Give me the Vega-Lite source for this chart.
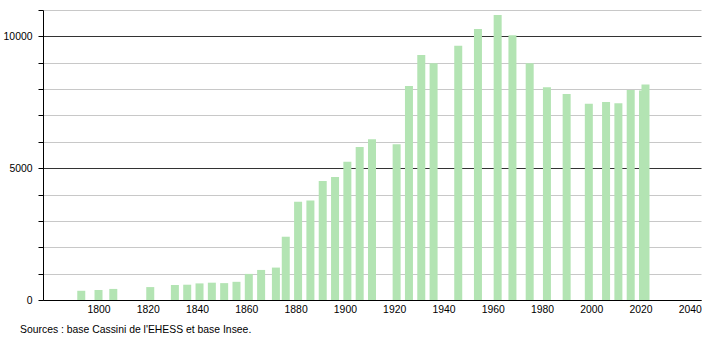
{
  "$schema": "https://vega.github.io/schema/vega-lite/v6.json",
  "width": 658,
  "height": 290,
  "autosize": {"type": "none"},
  "padding": {"left": 43, "top": 10, "right": 9, "bottom": 40},
  "background": "white",
  "config": {
    "view": {"stroke": null},
    "font": "Liberation Sans"
  },
  "title": {
    "text": "Sources : base Cassini de l'EHESS et base Insee.",
    "orient": "bottom",
    "anchor": "start",
    "frame": "group",
    "dx": -23,
    "offset": 11,
    "fontSize": 10.4,
    "fontWeight": "normal",
    "font": "Liberation Sans",
    "color": "#000000"
  },
  "data": {
    "values": [
      {"year": 1793, "population": 350},
      {"year": 1800, "population": 380},
      {"year": 1806, "population": 420},
      {"year": 1821, "population": 490},
      {"year": 1831, "population": 570},
      {"year": 1836, "population": 580},
      {"year": 1841, "population": 630},
      {"year": 1846, "population": 657},
      {"year": 1851, "population": 640},
      {"year": 1856, "population": 690},
      {"year": 1861, "population": 990},
      {"year": 1866, "population": 1140},
      {"year": 1872, "population": 1230},
      {"year": 1876, "population": 2400},
      {"year": 1881, "population": 3730},
      {"year": 1886, "population": 3770},
      {"year": 1891, "population": 4510},
      {"year": 1896, "population": 4670},
      {"year": 1901, "population": 5240},
      {"year": 1906, "population": 5800},
      {"year": 1911, "population": 6100},
      {"year": 1921, "population": 5910},
      {"year": 1926, "population": 8120},
      {"year": 1931, "population": 9290},
      {"year": 1936, "population": 8980},
      {"year": 1946, "population": 9640},
      {"year": 1954, "population": 10280},
      {"year": 1962, "population": 10810},
      {"year": 1968, "population": 10040},
      {"year": 1975, "population": 8980},
      {"year": 1982, "population": 8070},
      {"year": 1990, "population": 7815},
      {"year": 1999, "population": 7440},
      {"year": 2006, "population": 7510},
      {"year": 2011, "population": 7460},
      {"year": 2016, "population": 7970},
      {"year": 2021, "population": 7950},
      {"year": 2022, "population": 8170}
    ]
  },
  "mark": {"type": "bar", "width": 8, "color": "#b3e4b3"},
  "encoding": {
    "x": {
      "field": "year",
      "type": "quantitative",
      "scale": {"domain": [1779.5, 2042.5], "nice": false, "zero": false},
      "axis": {
        "title": null,
        "values": [1800, 1820, 1840, 1860, 1880, 1900, 1920, 1940, 1960, 1980, 2000, 2020, 2040],
        "format": "d",
        "ticks": false,
        "grid": false,
        "domainColor": "#000000",
        "domainWidth": 1,
        "labelFontSize": 10.4,
        "labelColor": "#000000",
        "labelPadding": 4,
        "labelFont": "Liberation Sans"
      }
    },
    "y": {
      "field": "population",
      "type": "quantitative",
      "scale": {"domain": [0, 11000], "nice": false},
      "axis": {
        "title": null,
        "values": [0, 1000, 2000, 3000, 4000, 5000, 6000, 7000, 8000, 9000, 10000, 11000],
        "format": "d",
        "labelExpr": "datum.value % 5000 === 0 ? datum.label : ''",
        "grid": true,
        "gridColor": {"condition": {"test": "datum.value % 5000 === 0", "value": "#333333"}, "value": "#c8c8c8"},
        "gridWidth": 1,
        "tickColor": "#000000",
        "tickSize": 5,
        "domainColor": "#000000",
        "domainWidth": 1,
        "labelFontSize": 10.4,
        "labelColor": "#000000",
        "labelPadding": 6,
        "labelFont": "Liberation Sans"
      }
    }
  }
}
